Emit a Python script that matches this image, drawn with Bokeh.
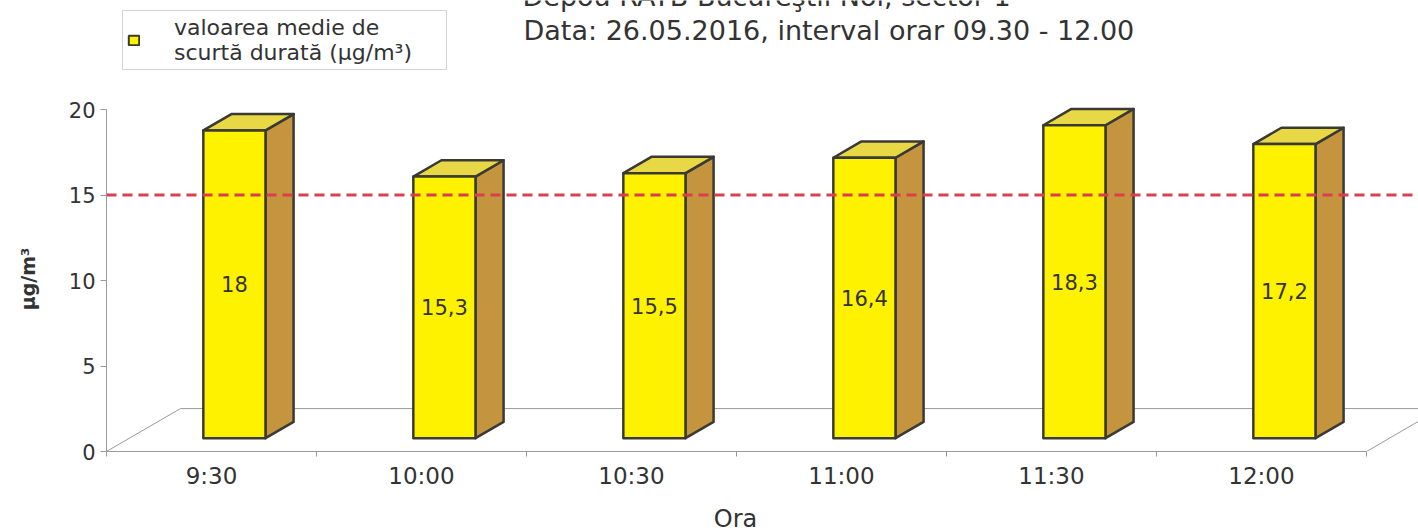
from bokeh.plotting import figure
from bokeh.layouts import column
from bokeh.models import FixedTicker, Span, Label, Legend, LegendItem, ColumnDataSource
from bokeh.core.properties import value
from bokeh.embed import file_html
from bokeh.resources import INLINE

# ---- data ----
categories = ["9:30", "10:00", "10:30", "11:00", "11:30", "12:00"]
values = [18.0, 15.3, 15.5, 16.4, 18.3, 17.2]
value_labels = ["18", "15,3", "15,5", "16,4", "18,3", "17,2"]
limit_value = 15
y_ticks = [0, 5, 10, 15, 20]
title_line1 = "Depou RATB Bucureştii Noi, sector 1"
title_line2 = "Data: 26.05.2016, interval orar 09.30 - 12.00"
legend_label = "valoarea medie de\nscurtă durată (µg/m³)"
x_title = "Ora"
y_title = "µg/m³"

# ---- 3D look (data units) ----
FLOOR_DX, FLOOR_DY = 0.352, 2.51
F0, F1 = 0.31, 0.69          # bar front / back depth fraction
HW = 0.148                   # half width of bar front
FONT = "DejaVu Sans"
TXT = "#333333"
EDGE = "#3a3a34"
FRONT_COL = "#fff200"

n = len(categories)
xs = list(range(n))
shift_x0 = F0 * FLOOR_DX
shift_y0 = F0 * FLOOR_DY
dx = (F1 - F0) * FLOOR_DX
dy = (F1 - F0) * FLOOR_DY

left = [x + shift_x0 - HW for x in xs]
right = [x + shift_x0 + HW for x in xs]
bottom = [shift_y0] * n
top = [shift_y0 + v for v in values]

side_xs = [[r, r + dx, r + dx, r] for r in right]
side_ys = [[b, b + dy, t + dy, t] for b, t in zip(bottom, top)]
top_xs = [[l, l + dx, r + dx, r] for l, r in zip(left, right)]
top_ys = [[t, t + dy, t + dy, t] for t in top]

W = 1418
LEFT_B = 106
FRAME_W = W - LEFT_B
FRAME_H = 345
TOP_B = 12
BOTTOM_B = 45
FOOT_H = 35
PX_PER_UNIT = 17.1
x_min = -0.5
x_max = x_min + FRAME_W / 210.0
y_max = FRAME_H / PX_PER_UNIT
HEAD_H = 531 - FRAME_H - BOTTOM_B - TOP_B - FOOT_H

bar_src = ColumnDataSource(dict(left=left, right=right, bottom=bottom, top=top))


def strip(height):
    f = figure(width=W, height=height, x_range=(LEFT_B, W), y_range=(height, 0),
               min_border_left=LEFT_B, min_border_right=0, min_border_top=0, min_border_bottom=0,
               x_axis_type=None, y_axis_type=None,
               output_backend="svg", toolbar_location=None)
    f.outline_line_color = None
    f.grid.visible = False
    return f


# ---------------- heading + legend strip ----------------
head = strip(HEAD_H)
head.add_layout(Label(x=522, y=-4, text=title_line1,
                      text_font=FONT, text_font_size="27px", text_color=TXT,
                      text_baseline="middle", text_align="left"))
head.add_layout(Label(x=523, y=30, text=title_line2,
                      text_font=FONT, text_font_size="27px", text_color=TXT,
                      text_baseline="middle", text_align="left"))

# legend glyph renderer (bar data lies outside this strip's visible range)
legend_glyph = head.quad(left="left", right="right", bottom="bottom", top="top", source=bar_src,
                         fill_color=FRONT_COL, line_color=EDGE, line_width=2)
legend = Legend(items=[LegendItem(label=legend_label, renderers=[legend_glyph])],
                location=(122 - LEFT_B, HEAD_H - 70), padding=4, spacing=0, margin=0,
                glyph_width=13, glyph_height=12, label_standoff=34, label_width=268,
                label_text_font=FONT, label_text_font_size="22px", label_text_color=TXT,
                label_text_line_height=1.23,
                border_line_color="#aaaaaa", border_line_width=1.5, background_fill_color="white")
head.add_layout(legend)

# ---------------- chart ----------------
p = figure(frame_width=FRAME_W, frame_height=FRAME_H,
           min_border_left=LEFT_B, min_border_right=0, min_border_top=TOP_B, min_border_bottom=BOTTOM_B,
           x_range=(x_min, x_max), y_range=(0, y_max),
           output_backend="svg", toolbar_location=None)
p.grid.visible = False
p.outline_line_color = None

# floor
floor_x0 = x_min
floor_x1 = x_min + n
p.line([floor_x0, floor_x0 + FLOOR_DX], [0, FLOOR_DY], line_color="#9a9a9a", line_width=1)
p.line([floor_x0 + FLOOR_DX, floor_x1 + FLOOR_DX], [FLOOR_DY, FLOOR_DY], line_color="#9a9a9a", line_width=1)
p.line([floor_x1, floor_x1 + FLOOR_DX], [0, FLOOR_DY], line_color="#9a9a9a", line_width=1)

# bars
p.patches(side_xs, side_ys, fill_color="#c4943f", line_color=EDGE, line_width=2.5, line_join="round")
p.patches(top_xs, top_ys, fill_color="#e9d845", line_color=EDGE, line_width=2.5, line_join="round")
front = p.quad(left="left", right="right", bottom="bottom", top="top", source=bar_src,
               fill_color=FRONT_COL, line_color=EDGE, line_width=2.5, line_join="round")

# value labels
lab_src = ColumnDataSource(dict(x=[x + shift_x0 for x in xs],
                                y=[b + v / 2 for b, v in zip(bottom, values)],
                                t=value_labels))
p.text(x="x", y="y", text="t", source=lab_src, text_align="center", text_baseline="middle",
       text_font=value(FONT), text_font_size="21px", text_color=TXT)

# limit line
p.add_layout(Span(location=limit_value, dimension="width", line_color="#d9404f",
                  line_width=3, line_dash="10 6"))

# axes
xa = p.xaxis[0]
xa.ticker = FixedTicker(ticks=xs, minor_ticks=[x_min + i for i in range(n + 1)])
xa.major_label_overrides = {i: c for i, c in enumerate(categories)}
xa.bounds = (floor_x0, floor_x1)
xa.axis_line_color = "#9a9a9a"
xa.major_tick_line_color = None
xa.major_tick_out = 6
xa.minor_tick_line_color = "#9a9a9a"
xa.minor_tick_out = 5
xa.minor_tick_in = 0
xa.major_label_standoff = 5
xa.major_label_text_font = FONT
xa.major_label_text_font_size = "23px"
xa.major_label_text_color = TXT

ya = p.yaxis[0]
ya.ticker = FixedTicker(ticks=y_ticks, minor_ticks=[])
ya.bounds = (0, 20)
ya.axis_line_color = "#9a9a9a"
ya.major_tick_line_color = "#9a9a9a"
ya.major_tick_out = 6
ya.major_tick_in = 0
ya.major_label_standoff = 5
ya.major_label_text_font = FONT
ya.major_label_text_font_size = "21px"
ya.major_label_text_color = TXT
ya.axis_label = y_title
ya.axis_label_text_font = FONT
ya.axis_label_text_font_size = "19px"
ya.axis_label_text_font_style = "bold"
ya.axis_label_text_color = TXT
ya.axis_label_standoff = 27

# ---------------- x-axis title strip (centred under the floor, as in the original) ----------------
foot = strip(FOOT_H)
foot.add_layout(Label(x=735, y=22, text=x_title,
                      text_font=FONT, text_font_size="24px", text_color=TXT,
                      text_baseline="middle", text_align="center"))

layout = column(head, p, foot, spacing=0)
open("out.html", "w").write(file_html(layout, INLINE))
